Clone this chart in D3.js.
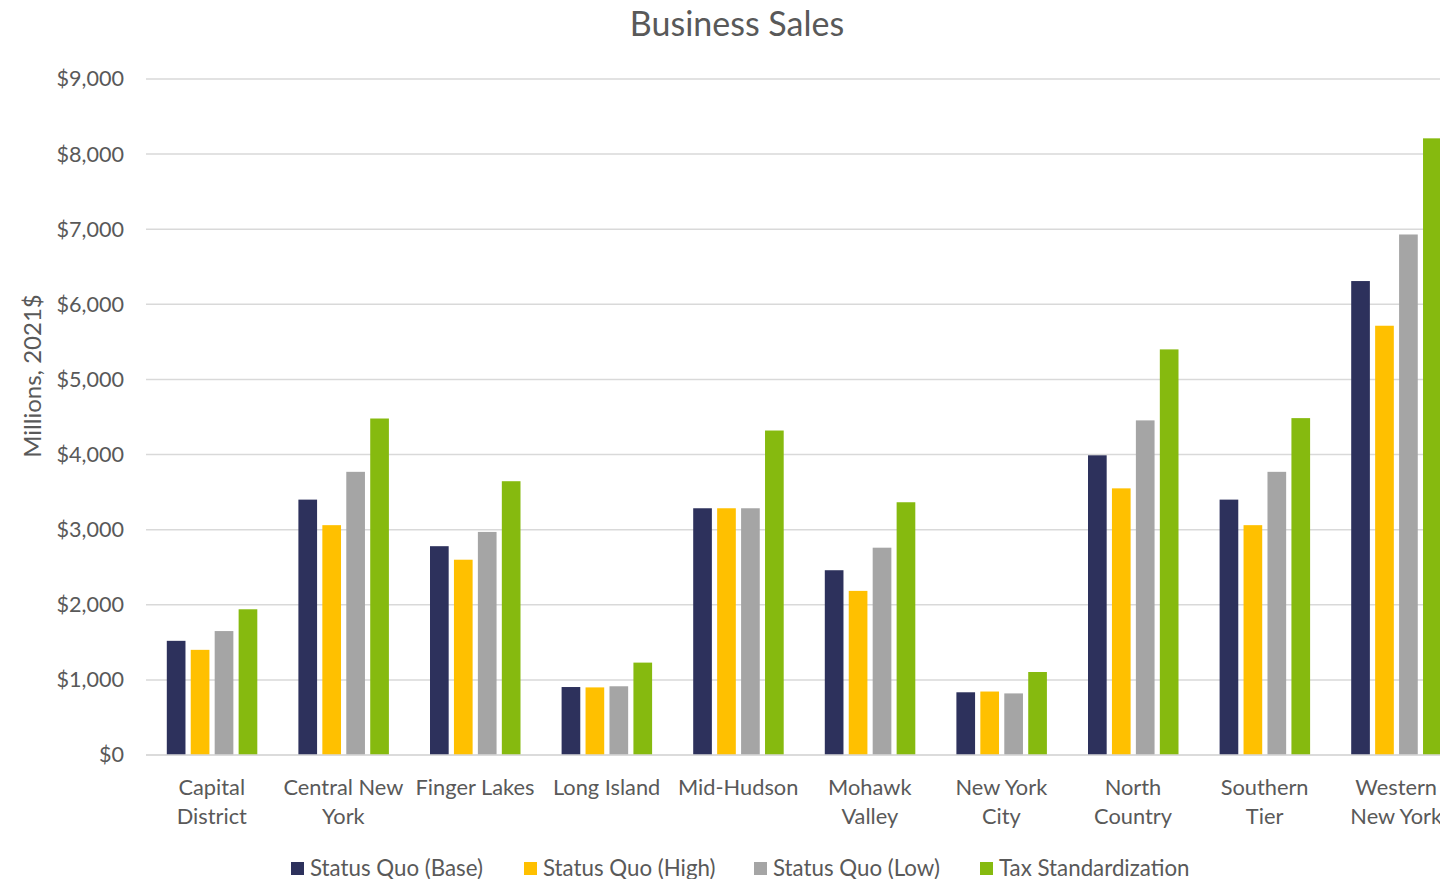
<!DOCTYPE html>
<html>
<head>
<meta charset="utf-8">
<script src="https://cdn.jsdelivr.net/npm/d3@7"></script>
<style>
  html, body { margin: 0; padding: 0; background: #fff; overflow: hidden; }
  svg { display: block; font-family: "Lato", "Noto Sans", sans-serif; }
</style>
</head>
<body>
<svg id="chart" width="1440" height="879"></svg>
<script>
// Regions (label lines as shown under each group)
const regions = ["Capital District", "Central New York", "Finger Lakes", "Long Island", "Mid-Hudson",
  "Mohawk Valley", "New York City", "North Country", "Southern Tier", "Western New York"];
const regionLabelLines = [["Capital", "District"], ["Central New", "York"], ["Finger Lakes"], ["Long Island"],
  ["Mid-Hudson"], ["Mohawk", "Valley"], ["New York", "City"], ["North", "Country"], ["Southern", "Tier"],
  ["Western", "New York"]];

const seriesNames = ["Status Quo (Base)", "Status Quo (High)", "Status Quo (Low)", "Tax Standardization"];
const seriesColors = ["#2D315C", "#FFC000", "#A5A5A5", "#86BA0F"];

// Business sales, millions of 2021 dollars
const statusQuoBase = [1520, 3400, 2780, 905, 3285, 2460, 835, 3990, 3400, 6310];
const statusQuoHigh = [1400, 3060, 2600, 900, 3285, 2185, 845, 3550, 3060, 5715];
const statusQuoLow = [1650, 3770, 2970, 915, 3285, 2760, 820, 4455, 3770, 6930];
const taxStandardization = [1940, 4480, 3645, 1230, 4320, 3365, 1105, 5400, 4485, 8210];

const yTicks = [0, 1000, 2000, 3000, 4000, 5000, 6000, 7000, 8000, 9000];

const seriesValues = [statusQuoBase, statusQuoHigh, statusQuoLow, taxStandardization];

const svg = d3.select("#chart");
const textColor = "#595959";
const gridColor = "#D9D9D9";

const x0 = d3.scaleBand().domain(regions).range([146, 1462]).padding(0);
const x1 = d3.scaleBand().domain(seriesNames).range([20.8, x0.bandwidth() - 20.3]).paddingInner(0.22).paddingOuter(0);
const y = d3.scaleLinear().domain([0, 9000]).range([755, 79]);

// Gridlines
svg.append("g")
  .selectAll("line")
  .data(yTicks)
  .join("line")
  .attr("x1", 146).attr("x2", 1462)
  .attr("y1", d => y(d)).attr("y2", d => y(d))
  .attr("stroke", gridColor).attr("stroke-width", 1.5);

// Y axis labels
const yAxis = d3.axisLeft(y).tickValues(yTicks).tickSize(0).tickPadding(0)
  .tickFormat(d => "$" + d3.format(",")(d));
const yg = svg.append("g").attr("transform", "translate(124,0)").call(yAxis);
yg.select(".domain").remove();
yg.selectAll("text").attr("fill", textColor).attr("font-size", 21.6).attr("font-family", "Lato, sans-serif");

// Bars
const rows = regions.map((r, i) => ({ region: r, values: seriesNames.map((s, j) => ({ series: s, value: seriesValues[j][i], color: seriesColors[j] })) }));

svg.append("g")
  .selectAll("g")
  .data(rows)
  .join("g")
  .attr("transform", d => `translate(${x0(d.region)},0)`)
  .selectAll("rect")
  .data(d => d.values)
  .join("rect")
  .attr("x", d => x1(d.series))
  .attr("width", x1.bandwidth())
  .attr("y", d => y(d.value))
  .attr("height", d => y(0) - y(d.value))
  .attr("fill", d => d.color);

// Category axis baseline
svg.append("line")
  .attr("x1", 146).attr("x2", 1462)
  .attr("y1", y(0)).attr("y2", y(0))
  .attr("stroke", gridColor).attr("stroke-width", 1.5);

// Category labels
const catLabels = svg.append("g")
  .selectAll("text")
  .data(regions)
  .join("text")
  .attr("x", d => x0(d) + x0.bandwidth() / 2)
  .attr("y", 795)
  .attr("text-anchor", "middle")
  .attr("fill", textColor)
  .attr("font-size", 21.8);
catLabels.selectAll("tspan")
  .data((d, i) => regionLabelLines[i])
  .join("tspan")
  .attr("x", function () { return d3.select(this.parentNode).attr("x"); })
  .attr("dy", (d, i) => i === 0 ? 0 : 29)
  .text(d => d);

// Title
svg.append("text")
  .attr("x", 737).attr("y", 36)
  .attr("text-anchor", "middle")
  .attr("fill", textColor)
  .attr("font-size", 34)
  .text("Business Sales");

// Y axis title
svg.append("text")
  .attr("transform", "translate(41,376) rotate(-90)")
  .attr("text-anchor", "middle")
  .attr("fill", textColor)
  .attr("font-size", 24)
  .text("Millions, 2021$");

// Legend
const legendX = [291, 524, 754, 980];
const legend = svg.append("g")
  .selectAll("g")
  .data(seriesNames)
  .join("g")
  .attr("transform", (d, i) => `translate(${legendX[i]},0)`);
legend.append("rect")
  .attr("x", 0).attr("y", 862).attr("width", 13).attr("height", 13)
  .attr("fill", (d, i) => seriesColors[i]);
legend.append("text")
  .attr("x", 19).attr("y", 876)
  .attr("fill", textColor)
  .attr("font-size", 22.3)
  .text(d => d);
</script>
</body>
</html>
